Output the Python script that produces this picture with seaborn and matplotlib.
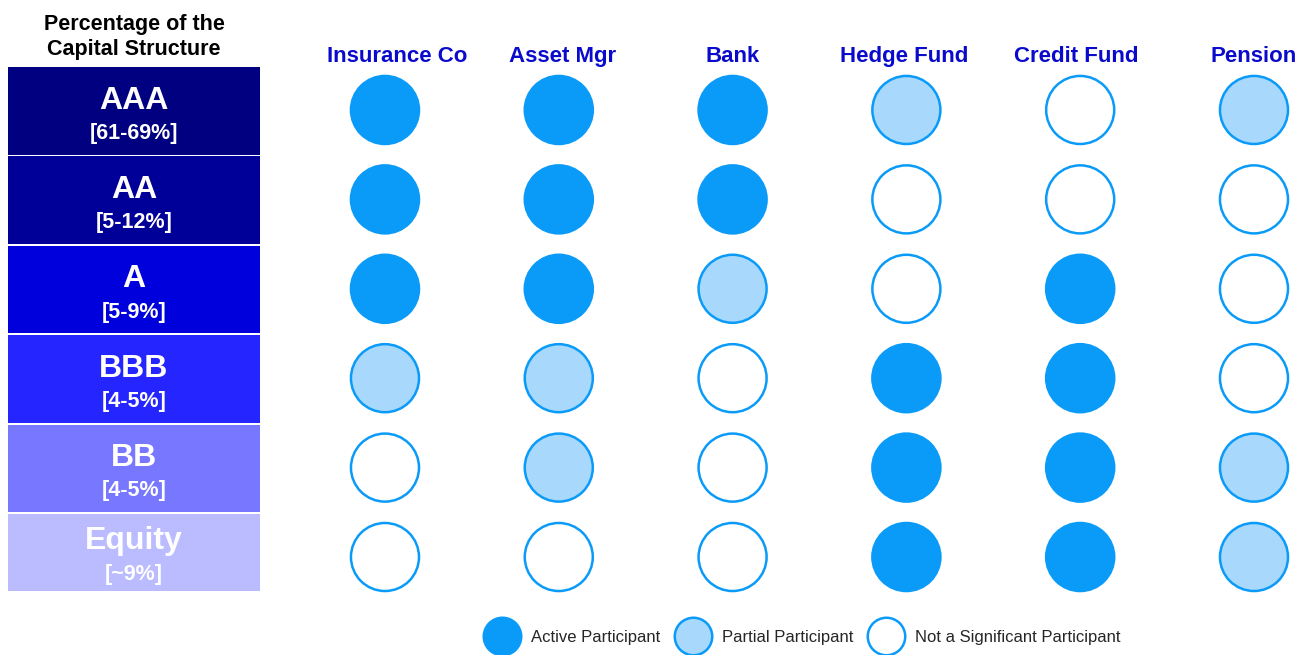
import matplotlib
matplotlib.use("Agg")
import matplotlib.pyplot as plt
from matplotlib.patches import Rectangle
from matplotlib.lines import Line2D
import seaborn as sns
import pandas as pd

# data
tranches = ["AAA", "AA", "A", "BBB", "BB", "Equity"]
tranche_pct = ["[61-69%]", "[5-12%]", "[5-9%]", "[4-5%]", "[4-5%]", "[~9%]"]
investors = ["Insurance Co", "Asset Mgr", "Bank", "Hedge Fund", "Credit Fund", "Pension"]
levels = ["Active Participant", "Partial Participant", "Not a Significant Participant"]

# A = active, P = partial, N = not significant; one string per tranche, one letter per investor
grid = ["AAAPNP",
        "AAANNN",
        "AAPNAN",
        "PPNAAN",
        "NPNAAP",
        "NNNAAP"]

code = {"A": levels[0], "P": levels[1], "N": levels[2]}
rows = []
for i, t in enumerate(tranches):
    for j, inv in enumerate(investors):
        rows.append({"investor": j, "tranche": i, "status": code[grid[i][j]]})
df = pd.DataFrame(rows)

# styles
box_colors = ["#000080", "#000099", "#0000DD", "#2525FF", "#7777FF", "#BBBBFF"]
edge_blue = "#0A9BF9"
palette = {levels[0]: edge_blue, levels[1]: "#A8D8FC", levels[2]: "white"}
header_blue = "#0A0ACC"

sns.set_theme(style="white")
plt.rcParams["font.family"] = ["Liberation Sans", "DejaVu Sans"]

fig = plt.figure(figsize=(13.11, 6.55), dpi=100)
ax = fig.add_axes([0, 0, 1, 1])

# axis limits chosen so column/row indexes land on the picture's grid
ax.set_xlim(-2.215, 5.328)
ax.set_ylim(6.096, -1.230)
ax.axis("off")

sns.scatterplot(data=df, x="investor", y="tranche", hue="status", palette=palette,
                s=2400, edgecolor=edge_blue, linewidth=1.8, legend=False, ax=ax, zorder=3)

# left-hand capital structure boxes (the last one is shorter)
box_left, box_right = -2.169, -0.719
for i, t in enumerate(tranches):
    last = i == len(tranches) - 1
    top = i - 0.48
    bottom = i + 0.38 if last else i + 0.50
    ax.add_patch(Rectangle((box_left, top), box_right - box_left, bottom - top,
                           facecolor=box_colors[i], edgecolor="none"))
    cx = (box_left + box_right) / 2
    name_off, pct_off = (-0.18, 0.2) if last else (-0.105, 0.26)
    ax.text(cx, i + name_off, t, color="white", fontsize=23, fontweight="bold",
            ha="center", va="center")
    ax.text(cx, i + pct_off, tranche_pct[i], color="white", fontsize=15.5, fontweight="bold",
            ha="center", va="center")

ax.text((box_left + box_right) / 2, -0.82, "Percentage of the\nCapital Structure",
        fontsize=15.5, fontweight="bold", color="black", ha="center", va="center",
        linespacing=1.25)

# investor headers
header_shift = [0.07, 0.02, 0.0, -0.01, -0.02, 0.0]
for j, inv in enumerate(investors):
    ax.text(j + header_shift[j], -0.6, inv, fontsize=16, fontweight="bold",
            color=header_blue, ha="center", va="center")

# legend
handles = [Line2D([], [], marker="o", linestyle="", markersize=27,
                  markerfacecolor=palette[lv], markeredgecolor=edge_blue,
                  markeredgewidth=1.8, label=lv) for lv in levels]
fig.legend(handles=handles, loc="center", bbox_to_anchor=(0.6125, 0.027), ncol=3,
           frameon=False, fontsize=12, handlelength=2.0, handletextpad=0.7,
           columnspacing=1.0, borderpad=0.0)

fig.savefig("out.png", dpi=100)
